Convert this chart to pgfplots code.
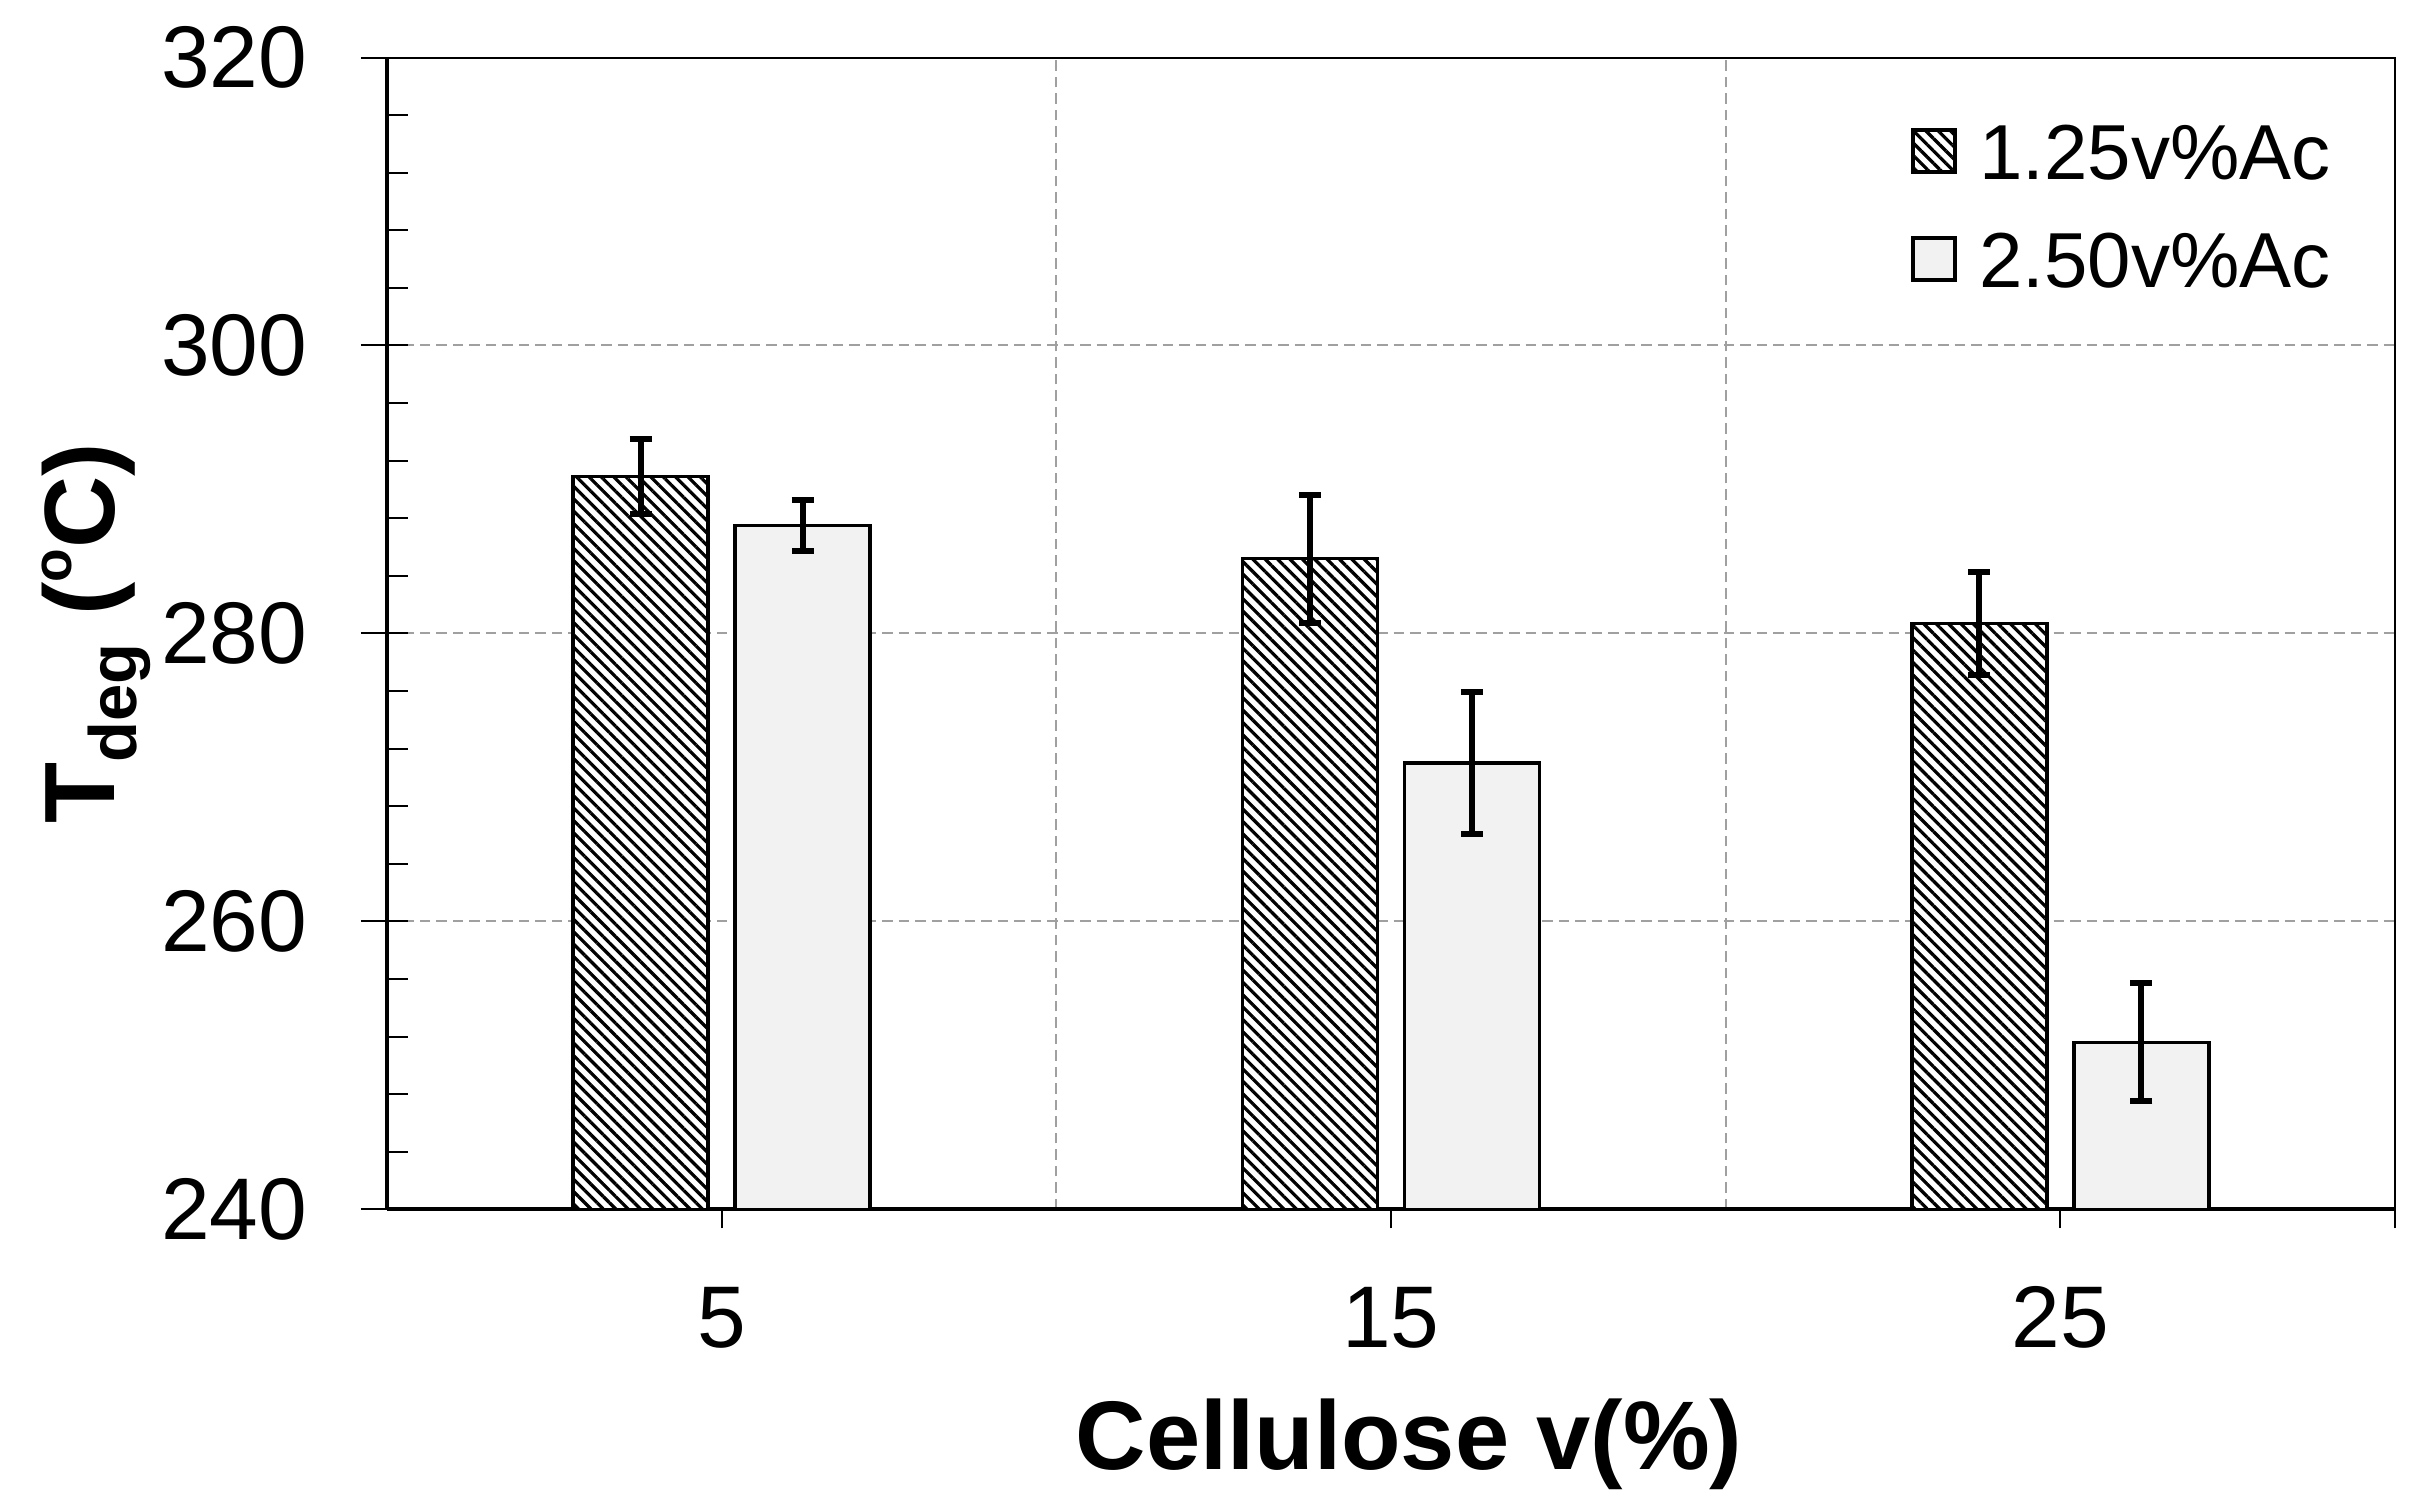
\documentclass[border=0pt]{standalone}
\usepackage{fontspec}
\setmainfont{Liberation Sans}
\usepackage{pgfplots}
\pgfplotsset{compat=1.18}
\usetikzlibrary{patterns.meta}
\definecolor{lightbar}{RGB}{242,242,242}
\definecolor{gridgray}{RGB}{160,160,160}
\tikzset{
  hatchbar/.style={fill=white, draw=black, line width=0.7pt,
    postaction={pattern={Lines[angle=-45,distance=1.75pt,line width=0.65pt]}}},
  lightbarstyle/.style={fill=lightbar, draw=black, line width=0.7pt},
}
\pgfplotsset{sqlegend/.style={legend image code/.code={\draw[##1] (0pt,-4.2pt) rectangle (8.4pt,4.2pt);}}}
\begin{document}
\begin{tikzpicture}
\path[use as bounding box] (-77.4pt,-59.9pt) rectangle (407.2pt,241.9pt);
\begin{axis}[
  at={(0pt,0pt)}, anchor=south west,
  scale only axis, width=401.6pt, height=230.4pt,
  xmin=0, xmax=3, ymin=240, ymax=320,
  axis x line*=bottom, axis y line*=left,
  axis line style={line width=0.8pt, -},
  x axis line style={-}, y axis line style={-},
  ybar, bar width=27pt, sqlegend,
  tick align=outside, major tick length=3.8pt, minor tick length=0pt,
  tick style={line width=0.4pt, black},
  xtick={0.5,1.5,2.5,3}, xticklabels={5,15,25,{}},
  minor xtick={1,2}, xminorgrids=true,
  ytick={240,260,...,320}, ymajorgrids=true,
  grid style={gridgray, line width=0.4pt, dash pattern=on 2.1pt off 1.2pt},
  /pgf/number format/assume math mode=true,
  tick label style={font=\fontsize{17.5}{21}\selectfont},
  xticklabel style={anchor=base, inner sep=0pt, yshift=-23.8pt},
  yticklabel style={anchor=east, inner sep=0pt, xshift=-12pt},
  xlabel={\bfseries Cellulose v(\%)},
  xlabel style={at={(axis description cs:0.509,-0.2257)}, anchor=base, inner sep=0pt, font=\fontsize{19.5}{23}\selectfont},
  ylabel={\bfseries T\raisebox{-4.4pt}{\fontsize{13.4}{16}\selectfont deg} (\raisebox{8.6pt}{\fontsize{11}{13}\selectfont o}C)},
  ylabel style={at={(axis description cs:-0.1355,0.5)}, anchor=base, inner sep=0pt, font=\fontsize{20}{24}\selectfont},
  legend style={at={(0.759,0.943)}, anchor=north west, draw=none, fill=none,
    inner sep=0pt, outer sep=0pt, font=\fontsize{15.6}{18}\selectfont,
    row sep=10.4pt, column sep=4.6pt,
    nodes={inner sep=0pt, text height=11.2pt, text depth=0pt}},
  legend cell align=left,
]
\addplot[hatchbar, bar shift=-16.2pt, sqlegend,
  error bars/.cd, y dir=both, y explicit,
  error bar style={line width=1.2pt, black},
  error mark options={rotate=90, mark size=2.2pt, line width=1.2pt, black}]
coordinates {(0.5,290.9) +- (0,2.6) (1.5,285.2) +- (0,4.45) (2.5,280.7) +- (0,3.55)};
\addlegendentry{1.25v\%Ac}
\addplot[lightbarstyle, bar shift=16.2pt, sqlegend,
  error bars/.cd, y dir=both, y explicit,
  error bar style={line width=1.2pt, black},
  error mark options={rotate=90, mark size=2.2pt, line width=1.2pt, black}]
coordinates {(0.5,287.5) +- (0,1.75) (1.5,271.0) +- (0,4.95) (2.5,251.6) +- (0,4.1)};
\addlegendentry{2.50v\%Ac}
\end{axis}
\begin{axis}[
  at={(0pt,0pt)}, anchor=south west,
  scale only axis, width=401.6pt, height=230.4pt,
  xmin=0, xmax=3, ymin=240, ymax=320,
  axis line style={line width=0.4pt},
  xtick=\empty, ytick={240,260,...,320}, yticklabels={}, ytick pos=left,
  tick align=outside, major tick length=5.2pt, tick style={line width=0.4pt, black},
]
\end{axis}
\begin{axis}[
  at={(0pt,0pt)}, anchor=south west,
  scale only axis, width=401.6pt, height=230.4pt,
  xmin=0, xmax=3, ymin=240, ymax=320,
  axis line style={line width=0.4pt},
  xtick=\empty, ytick={240,260,...,320}, yticklabels={}, ytick pos=left,
  minor y tick num=4,
  tick align=inside, major tick length=4.2pt, minor tick length=4.2pt,
  tick style={line width=0.4pt, black},
]
\end{axis}
\end{tikzpicture}
\end{document}
